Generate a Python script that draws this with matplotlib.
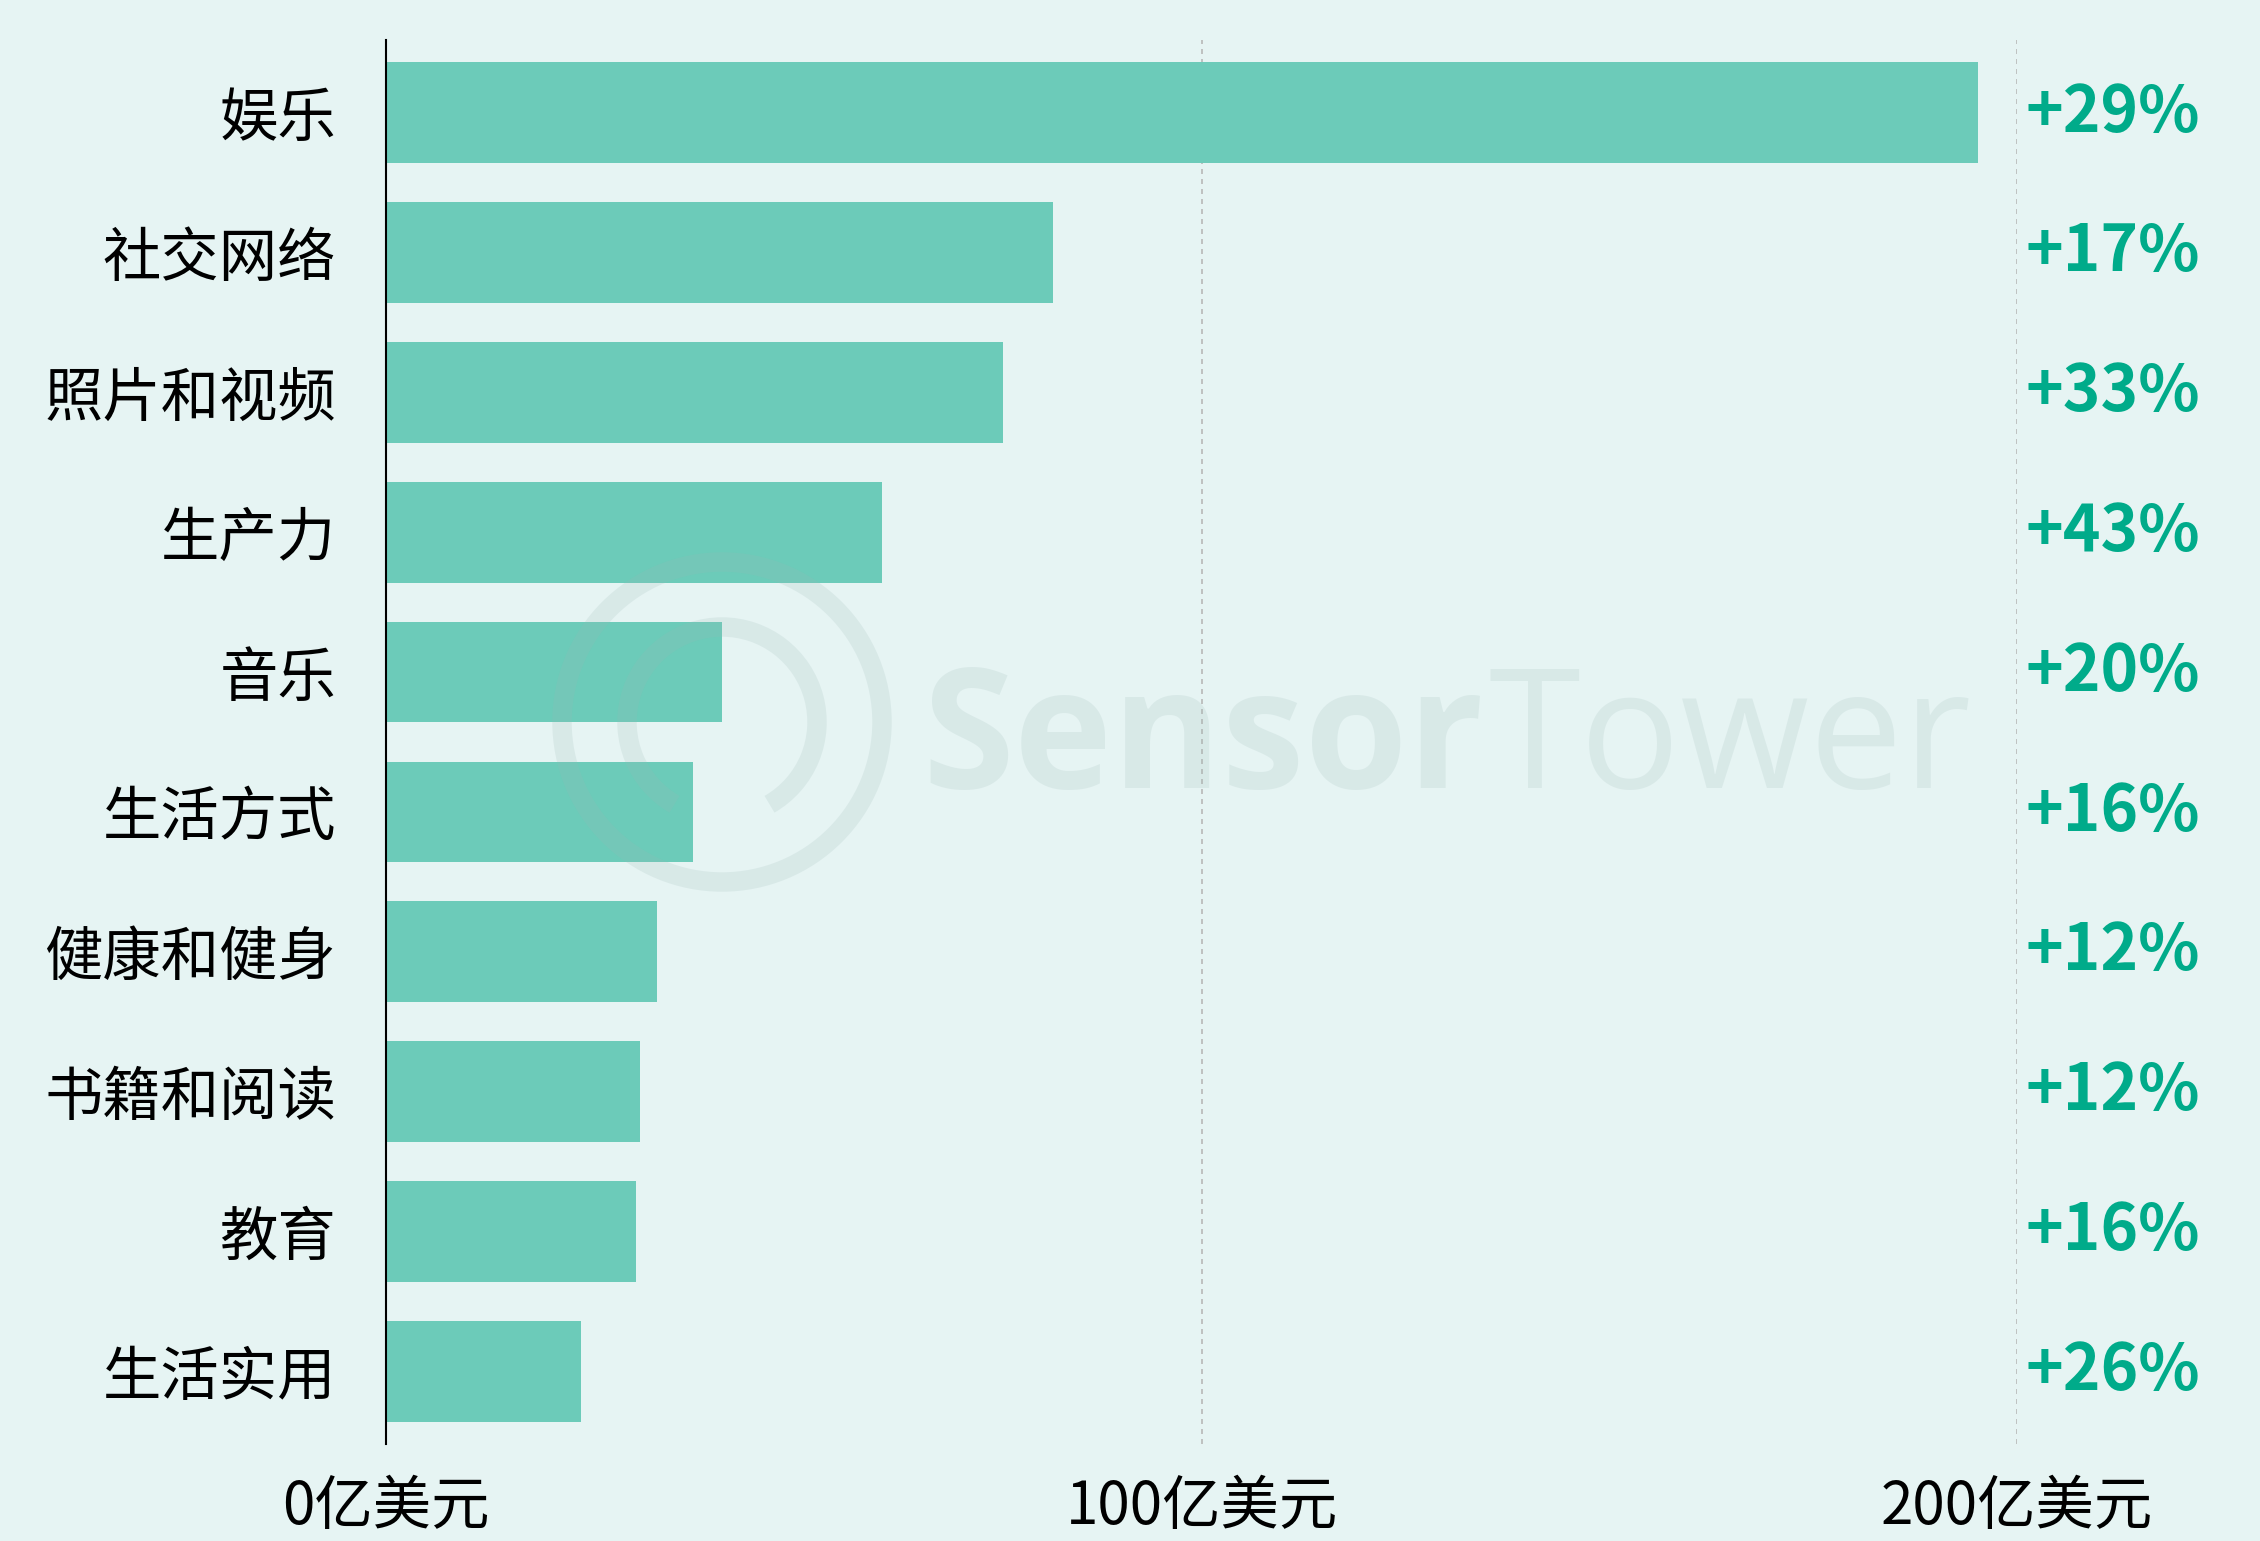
import matplotlib.pyplot as plt
from matplotlib.patches import Circle, Arc

# 2023 revenue by app category (100 million USD) and year-over-year growth
categories = ["娱乐", "社交网络", "照片和视频", "生产力", "音乐",
              "生活方式", "健康和健身", "书籍和阅读", "教育", "生活实用"]
revenue = [195.2, 81.8, 75.6, 60.8, 41.2, 37.6, 33.2, 31.1, 30.7, 23.9]
growth = ["+29%", "+17%", "+33%", "+43%", "+20%",
          "+16%", "+12%", "+12%", "+16%", "+26%"]
xticks = [0, 100, 200]
xtick_labels = ["0亿美元", "100亿美元", "200亿美元"]

bg = "#E6F4F3"
bar_color = "#6CCBB9"
pct_color = "#00AB8A"

plt.rcParams['font.family'] = ['Noto Sans CJK SC', 'DejaVu Sans']

fig = plt.figure(figsize=(22.6, 15.41), dpi=100, facecolor=bg)
ax = fig.add_axes([0.1708, 0.063, 0.8925 - 0.1708, 0.974 - 0.063])
ax.set_facecolor(bg)

y = list(range(len(categories)))
ax.barh(y, revenue, height=0.72, color=bar_color, zorder=2)

ax.set_xlim(0, 200)
ax.set_ylim(9.52, -0.52)

ax.set_yticks(y)
ax.set_yticklabels(categories, fontsize=42)
ax.set_xticks(xticks)
ax.set_xticklabels(xtick_labels, fontsize=42)
ax.tick_params(axis='y', length=0, pad=36)
ax.tick_params(axis='x', length=0, pad=24)

for v in xticks[1:]:
    ax.axvline(v, color="#B8B8B8", linestyle=(0, (3, 3)), linewidth=1.2, zorder=1)

for s in ["top", "right", "bottom"]:
    ax.spines[s].set_visible(False)
ax.spines["left"].set_color("black")
ax.spines["left"].set_linewidth(1.5)
ax.spines["left"].set_zorder(3)

for yi, g in zip(y, growth):
    ax.text(201.0, yi, g, color=pct_color, fontsize=46, fontweight="bold",
            ha="left", va="center", clip_on=False,
            family=['Noto Sans CJK SC', 'DejaVu Sans'])

# faint watermark
wm = "#9BB8B5"
fig.patches.append(Circle((722, 1541 - 722), 160, transform=None, fill=False,
                          edgecolor=wm, linewidth=14, alpha=0.18, zorder=5))
fig.patches.append(Arc((722, 1541 - 722), 190, 190, theta1=-60, theta2=240,
                       transform=None, edgecolor=wm, linewidth=14, alpha=0.18, zorder=5))
fig.text(922 / 2260, 1 - 745 / 1541, "Sensor", fontsize=120, fontweight="bold",
         color=wm, alpha=0.18, ha="left", va="center", family="Open Sans", zorder=5)
fig.text(1488 / 2260, 1 - 745 / 1541, "Tower", fontsize=120, fontweight="normal",
         color=wm, alpha=0.18, ha="left", va="center", family="Open Sans", zorder=5)

fig.savefig("out.png", dpi=100, facecolor=bg)
